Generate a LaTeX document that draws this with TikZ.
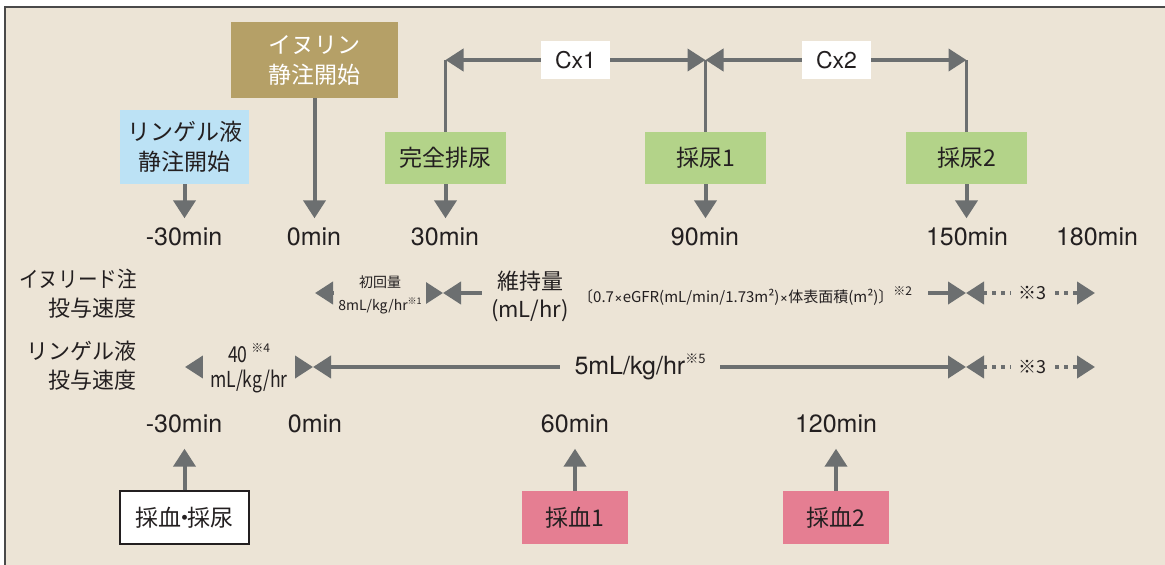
\documentclass[tikz,border=0pt]{standalone}
\usepackage{fontspec}
\usepackage{graphicx}
\setmainfont{Noto Sans CJK JP}
\newfontfamily\hv{TeX Gyre Heros}
\usetikzlibrary{arrows.meta,positioning}

\definecolor{bg}{HTML}{ECE4D6}
\definecolor{frame}{HTML}{4A4A4A}
\definecolor{ln}{HTML}{6C6F70}
\definecolor{inulin}{HTML}{B5A067}
\definecolor{ringer}{HTML}{BCE2F5}
\definecolor{urine}{HTML}{B3D389}
\definecolor{blood}{HTML}{E57E92}
\definecolor{txt}{HTML}{231F20}

\newcommand{\fsz}[2]{\fontsize{#1}{#2}\selectfont}
\newcommand{\narrow}[1]{\scalebox{0.8}[1]{#1}}
\newcommand{\kome}[2]{\raisebox{0.45em}{\fsz{#1}{#1}※#2}}
\newcommand{\tms}{{\hv\char"00D7}}

\tikzset{
  tip/.tip={Triangle[width=22pt,length=18pt]},
  box/.style={inner sep=0pt, align=center, text=txt, font=\fsz{23pt}{30pt}},
  tm/.style={inner sep=0pt, text height=17pt, text depth=0pt, text=txt, font=\hv\fsz{25pt}{25pt}},
  arr/.style={draw=ln, line width=4pt, -tip},
  dim/.style={draw=ln, line width=4pt, tip-tip},
  dots/.style={dim, dash pattern=on 4pt off 5pt},
  cover/.style={fill=bg, inner sep=0pt, align=center, text=txt},
  rowlab/.style={anchor=east, align=right, text=txt, inner sep=0pt, font=\fsz{22pt}{29pt}},
}

\begin{document}
\begin{tikzpicture}[x=1pt,y=-1pt]
  % frame
  \useasboundingbox (0,0) rectangle (1165,565);
  \fill[white] (0,0) rectangle (1165,565);
  \fill[bg] (4,6) rectangle (1165,565);
  \draw[frame, line width=1.6pt] (4.8,565) -- (4.8,6.8) -- (1165,6.8);

  % upper boxes
  \node[box, fill=inulin, text=white, minimum width=167pt, minimum height=76pt] (inu) at (314.5,60) {イヌリン\\静注開始};
  \node[box, fill=ringer, minimum width=129pt, minimum height=74pt] (rin) at (184.5,147) {リンゲル液\\静注開始};
  \node[box, fill=urine, minimum width=121pt, minimum height=52pt] (comp) at (445.5,158) {完全排尿};
  \node[box, fill=urine, minimum width=121pt, minimum height=52pt] (u1) at (705.5,158) {採尿1};
  \node[box, fill=urine, minimum width=121pt, minimum height=52pt] (u2) at (966.5,158) {採尿2};
  \node[box, fill=white, font=\hv\fsz{23pt}{23pt}, minimum width=69pt, minimum height=38pt] (cx1) at (575.5,60) {Cx1};
  \node[box, fill=white, font=\hv\fsz{23pt}{23pt}, minimum width=69pt, minimum height=38pt] (cx2) at (836.5,60) {Cx2};

  % upper times
  \node[tm] (tmA) at (184,237) {-30min};
  \node[tm] (tmB) at (314,237) {0min};
  \node[tm] (tmC) at (445,237) {30min};
  \node[tm] (tmD) at (705,237) {90min};
  \node[tm] (tmE) at (967,237) {150min};
  \node[tm] (tmF) at (1097,237) {180min};

  \draw[arr, shorten >=10pt] (rin.south) -- (rin.south |- tmA.north);
  \draw[arr, shorten >=10pt] (inu.south) -- (inu.south |- tmB.north);
  \draw[arr, shorten >=10pt] (comp.south) -- (comp.south |- tmC.north);
  \draw[arr, shorten >=10pt] (u1.south) -- (u1.south |- tmD.north);
  \draw[arr, shorten >=10pt] (u2.south) -- (u2.south |- tmE.north);

  % Cx brackets
  \draw[draw=ln, line width=3pt] (comp.north) -- (comp.north |- cx1.center);
  \draw[draw=ln, line width=3pt] (u1.north) -- (u1.north |- cx1.center);
  \draw[draw=ln, line width=3pt] (u2.north) -- (u2.north |- cx2.center);
  \draw[arr] (cx1.west) -- (comp.north |- cx1.west);
  \draw[arr] (cx1.east) -- (u1.north |- cx1.east);
  \draw[arr] (cx2.west) -- (u1.north |- cx2.west);
  \draw[arr] (cx2.east) -- (u2.north |- cx2.east);

  % row labels
  \node[rowlab] (labI) at (137,294) {\scalebox{0.89}[1]{イヌリード注}\\投与速度};
  \node[rowlab] (labR) at (137,366) {リンゲル液\\投与速度};

  % inulide rate
  \coordinate (iA) at (315,293);
  \coordinate (iB) at (443,293);
  \coordinate (iC) at (966,293);
  \coordinate (iD) at (1095,293);
  \draw[dim] (iA) -- (iB);
  \draw[dim] (iB) -- (iC);
  \draw[dots] (iC) -- (iD);
  \node[cover, font=\fsz{14pt}{23pt}, minimum width=92pt, minimum height=44pt] (ini) at (380,295) {初回量\\8mL/kg/hr\kome{9pt}{1}};
  \node[cover, font=\fsz{22pt}{28pt}, minimum width=96pt, minimum height=56pt] (keep) at (530,296) {維持量\\(mL/hr)};
  \node[cover, font=\fsz{15pt}{15pt}, anchor=west, minimum height=24pt, inner xsep=2pt, text width=348pt, align=left] (form) at (576,296) {〔0.7\tms eGFR(mL/min/1.73m²)\tms 体表面積(m²)〕\kome{12pt}{2}};
  \node[cover, font=\fsz{18pt}{18pt}, minimum width=42pt, minimum height=24pt] (k3a) at (1032,293) {※3};

  % ringer rate
  \coordinate (rA) at (185,367);
  \coordinate (rB) at (313,367);
  \coordinate (rC) at (966,367);
  \coordinate (rD) at (1095,367);
  \draw[dim] (rA) -- (rB);
  \draw[dim] (rB) -- (rC);
  \draw[dots] (rC) -- (rD);
  \node[cover, font=\fsz{22pt}{25pt}, minimum width=92pt, minimum height=50pt] (r40) at (249,368) {\narrow{40}\,\kome{12pt}{4}\\\narrow{mL/kg/hr}};
  \node[cover, font=\hv\fsz{25pt}{25pt}, minimum width=160pt, minimum height=30pt] (r5) at (640,367) {5mL/kg/hr{\setmainfont{Noto Sans CJK JP}\kome{13pt}{5}}};
  \node[cover, font=\fsz{18pt}{18pt}, minimum width=42pt, minimum height=24pt] (k3b) at (1032,367) {※3};

  % lower times
  \node[tm] (bmA) at (184,424) {-30min};
  \node[tm] (bmB) at (315,424) {0min};
  \node[tm] (bmC) at (575,424) {60min};
  \node[tm] (bmD) at (836,424) {120min};

  % lower boxes
  \node[box, fill=white, draw=txt, line width=1.2pt, minimum width=129pt, minimum height=53pt] (bs) at (184.5,517.5) {採血\hspace{-0.38em}・\hspace{-0.38em}採尿};
  \node[box, fill=blood, minimum width=106pt, minimum height=53pt] (b1) at (575,517.5) {採血1};
  \node[box, fill=blood, minimum width=106pt, minimum height=53pt] (b2) at (836,517.5) {採血2};

  \draw[arr, shorten >=16pt] (bs.north) -- (bs.north |- bmA.south);
  \draw[arr, shorten >=16pt] (b1.north) -- (b1.north |- bmC.south);
  \draw[arr, shorten >=16pt] (b2.north) -- (b2.north |- bmD.south);
\end{tikzpicture}
\end{document}
